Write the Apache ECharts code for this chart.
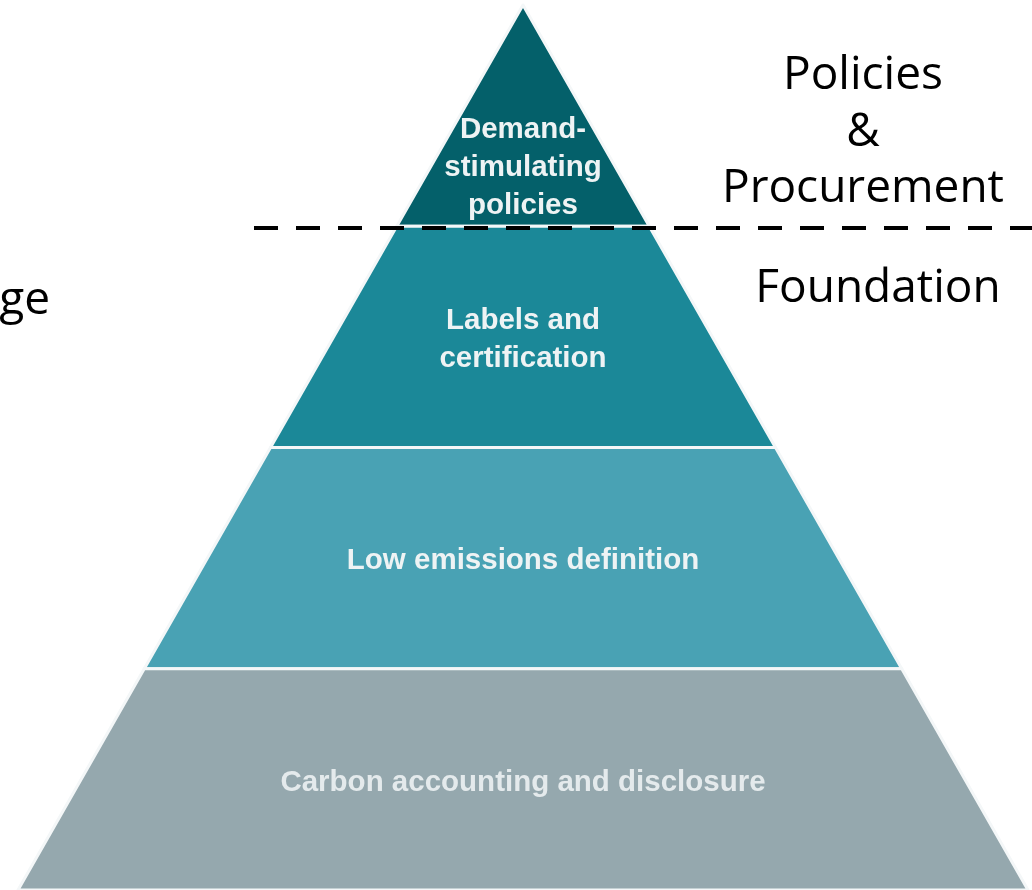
<!DOCTYPE html>
<html>
<head>
<meta charset="utf-8">
<script src="https://cdn.jsdelivr.net/npm/echarts@6/dist/echarts.min.js"></script>
<style>
  html, body { margin: 0; padding: 0; background: #fff; }
  #chart { width: 1032px; height: 890px; }
</style>
</head>
<body>
<div id="chart"></div>
<script>
// pyramid layers, top to bottom
const layerNames = ['Demand-stimulating policies', 'Labels and certification', 'Low emissions definition', 'Carbon accounting and disclosure'];
const layerLabels = ['Demand-\nstimulating\npolicies', 'Labels and\ncertification', 'Low emissions definition', 'Carbon accounting and disclosure'];
const layerValues = [1, 2, 3, 4];
const layerColors = ['#04606a', '#1b8898', '#49a2b4', '#95a8ae'];
const labelColors = ['#eef3f4', '#eef3f4', '#eef3f4', '#e4eaec'];

// side annotations
const topGroupLines = ['Policies', '&', 'Procurement'];
const bottomGroupText = 'Foundation';
const cutText = 'ge';

function initializeChart() {
    return echarts.init(document.getElementById('chart'), null, {renderer: 'canvas'});
}

const chart = initializeChart();

const sideFont = '46px "Open Sans", sans-serif';

const option = {
    animation: false,
    series: [{
        type: 'funnel',
        sort: 'ascending',
        left: 18,
        top: 5,
        width: 1010,
        height: 885,
        min: 0,
        max: 4,
        minSize: '0%',
        maxSize: '100%',
        gap: 0,
        itemStyle: {
            borderColor: '#f4f7f8',
            borderWidth: 3
        },
        label: {
            show: true,
            position: 'inside',
            fontFamily: 'Liberation Sans, Arial, sans-serif',
            fontWeight: 'bold',
            fontSize: 29.5,
            lineHeight: 38,
            textBorderWidth: 0,
            formatter: p => layerLabels[p.dataIndex]
        },
        // the apex label sits low in the triangle
        labelLayout: p => ({ dy: p.dataIndex === 0 ? 52 : 3 }),
        labelLine: { show: false },
        emphasis: { disabled: true },
        data: layerNames.map((name, i) => ({
            name: name,
            value: layerValues[i],
            itemStyle: { color: layerColors[i] },
            label: { color: labelColors[i] }
        }))
    }],
    graphic: [
        {
            type: 'line',
            shape: { x1: 254, y1: 228, x2: 1032, y2: 228 },
            style: { stroke: '#000', lineWidth: 4, lineDash: [24, 18] },
            z: 10
        },
        ...topGroupLines.map((t, i) => ({
            type: 'text',
            x: 863,
            y: [76, 133, 189][i],
            style: {
                text: t,
                fill: '#000',
                font: sideFont,
                textAlign: 'center',
                textVerticalAlign: 'middle'
            }
        })),
        {
            type: 'text',
            x: 878,
            y: 289,
            style: {
                text: bottomGroupText,
                fill: '#000',
                font: sideFont,
                textAlign: 'center',
                textVerticalAlign: 'middle'
            }
        },
        {
            type: 'text',
            x: 50,
            y: 301,
            style: {
                text: cutText,
                fill: '#000',
                font: sideFont,
                textAlign: 'right',
                textVerticalAlign: 'middle'
            }
        }
    ]
};

chart.setOption(option);
</script>
</body>
</html>
